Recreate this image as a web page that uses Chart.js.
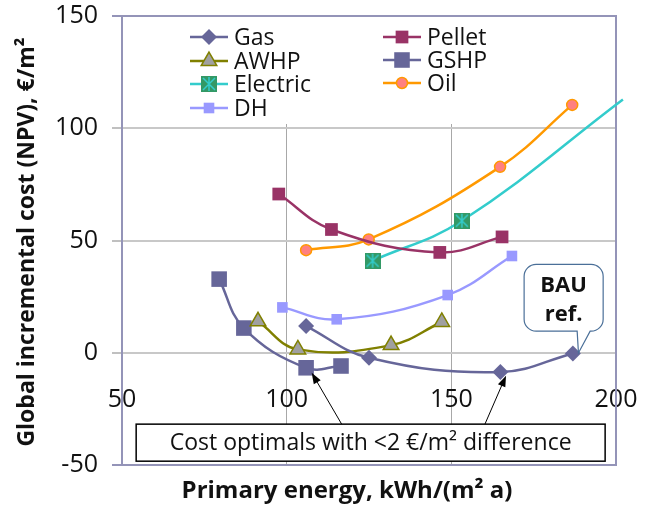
<!DOCTYPE html>
<html>
<head>
<meta charset="utf-8">
<script src="https://cdn.jsdelivr.net/npm/chart.js@4/dist/chart.umd.min.js"></script>
<style>
html, body { margin: 0; padding: 0; background: #fff; }
#wrap { width: 649px; height: 508px; }
</style>
</head>
<body>
<div id="wrap"><canvas id="chart" width="649" height="508"></canvas></div>
<script>
// axis ticks
var xTicks = [50, 100, 150, 200];
var yTicks = [-50, 0, 50, 100, 150];

// series, x = primary energy kWh/(m2 a), y = global incremental cost EUR/m2
var gasX = [105.9, 125.0, 164.9, 186.9];
var gasY = [11.9, -2.2, -8.6, -0.3];
var pelletX = [97.6, 113.6, 146.5, 165.4];
var pelletY = [70.7, 54.9, 44.7, 51.6];
var awhpX = [91.3, 103.4, 131.7, 147.1];
var awhpY = [14.0, 1.5, 3.4, 13.7];
var gshpX = [79.5, 87.0, 105.9, 116.5];
var gshpY = [32.8, 11.0, -6.7, -5.9];
var electricX = [126.1, 153.2, 202.1];
var electricY = [41.0, 58.8, 112.8];
var oilX = [105.9, 124.9, 164.8, 186.7];
var oilY = [45.7, 50.5, 82.8, 110.4];
var dhX = [98.7, 115.2, 148.9, 168.4];
var dhY = [20.2, 14.9, 25.7, 43.1];

var frameColor = '#9494b8';
var font = '"Open Sans", "Liberation Sans", sans-serif';

function pts(xs, ys) {
    return xs.map(function (x, i) { return { x: x, y: ys[i] }; });
}

function electricMarker() {
    var c = document.createElement('canvas');
    c.width = 16; c.height = 16;
    var g = c.getContext('2d');
    g.fillStyle = '#339966';
    g.fillRect(0, 0, 16, 16);
    g.strokeStyle = '#33cccc';
    g.lineWidth = 1.5;
    g.beginPath();
    g.moveTo(2, 2); g.lineTo(14, 14);
    g.moveTo(14, 2); g.lineTo(2, 14);
    g.moveTo(8, 1); g.lineTo(8, 15);
    g.stroke();
    return c;
}
var elecImg = electricMarker();

var series = [
    { label: 'Gas', xs: gasX, ys: gasY, line: '#666699', fill: '#666699', style: 'rectRot', r: 8, bw: 0 },
    { label: 'Pellet', xs: pelletX, ys: pelletY, line: '#993366', fill: '#993366', style: 'rect', r: 9, bw: 0 },
    { label: 'AWHP', xs: awhpX, ys: awhpY, line: '#808000', fill: '#a0a0a0', style: 'triangle', r: 9, bw: 1.5 },
    { label: 'GSHP', xs: gshpX, ys: gshpY, line: '#666699', fill: '#666699', style: 'rect', r: 11, bw: 0 },
    { label: 'Electric', xs: electricX, ys: electricY, line: '#33cccc', fill: '#339966', style: elecImg, r: 8, bw: 0 },
    { label: 'Oil', xs: oilX, ys: oilY, line: '#ff9900', fill: '#ff8080', style: 'circle', r: 5.5, bw: 1.5 },
    { label: 'DH', xs: dhX, ys: dhY, line: '#9999ff', fill: '#9999ff', style: 'rect', r: 7.5, bw: 0 }
];

var datasets = series.map(function (s) {
    var radii = s.xs.map(function (x) { return x > 200 ? 0 : s.r; });
    return {
        label: s.label,
        data: pts(s.xs, s.ys),
        borderColor: s.line,
        borderWidth: 2.5,
        backgroundColor: s.fill,
        pointBackgroundColor: s.fill,
        pointBorderColor: s.line,
        pointBorderWidth: s.bw,
        pointStyle: s.style,
        pointRadius: radii,
        tension: 0.4,
        clip: false
    };
});

function drawMarker(ctx, s, x, y) {
    ctx.save();
    ctx.fillStyle = s.fill;
    ctx.strokeStyle = s.line;
    ctx.lineWidth = s.bw;
    var r = s.r;
    ctx.beginPath();
    if (s.style === 'rect') {
        var h = r * Math.SQRT1_2;
        ctx.rect(x - h, y - h, 2 * h, 2 * h);
    } else if (s.style === 'rectRot') {
        ctx.moveTo(x, y - r); ctx.lineTo(x + r, y); ctx.lineTo(x, y + r); ctx.lineTo(x - r, y); ctx.closePath();
    } else if (s.style === 'triangle') {
        var a = 0;
        ctx.moveTo(x + Math.sin(a) * r, y - Math.cos(a) * r);
        a += Math.PI * 2 / 3;
        ctx.lineTo(x + Math.sin(a) * r, y - Math.cos(a) * r);
        a += Math.PI * 2 / 3;
        ctx.lineTo(x + Math.sin(a) * r, y - Math.cos(a) * r);
        ctx.closePath();
    } else if (s.style === 'circle') {
        ctx.arc(x, y, r, 0, Math.PI * 2);
    } else {
        ctx.drawImage(s.style, x - 8, y - 8);
        ctx.restore();
        return;
    }
    ctx.fill();
    if (s.bw > 0) ctx.stroke();
    ctx.restore();
}

function arrow(ctx, x1, y1, x2, y2) {
    var ang = Math.atan2(y2 - y1, x2 - x1);
    var len = 11, w = 4;
    ctx.save();
    ctx.strokeStyle = '#000';
    ctx.fillStyle = '#000';
    ctx.lineWidth = 1;
    ctx.beginPath();
    ctx.moveTo(x1, y1);
    ctx.lineTo(x2 - Math.cos(ang) * len * 0.8, y2 - Math.sin(ang) * len * 0.8);
    ctx.stroke();
    ctx.beginPath();
    ctx.moveTo(x2, y2);
    ctx.lineTo(x2 - Math.cos(ang) * len - Math.sin(ang) * w, y2 - Math.sin(ang) * len + Math.cos(ang) * w);
    ctx.lineTo(x2 - Math.cos(ang) * len + Math.sin(ang) * w, y2 - Math.sin(ang) * len - Math.cos(ang) * w);
    ctx.closePath();
    ctx.fill();
    ctx.restore();
}

var extras = {
    id: 'extras',
    beforeDatasetsDraw: function (chart) {
        var ctx = chart.ctx, a = chart.chartArea;
        // legend background inside the plot
        ctx.save();
        ctx.fillStyle = '#fff';
        ctx.fillRect(170, a.top + 1, 350, 124 - a.top - 1);
        // frame
        ctx.strokeStyle = frameColor;
        ctx.lineWidth = 2;
        ctx.strokeRect(a.left, a.top, a.right - a.left, a.bottom - a.top);
        ctx.restore();

        // legend
        var cols = [
            { lx: 190, tx: 234, items: ['Gas', 'AWHP', 'Electric', 'DH'], ys: [37, 61, 84, 108] },
            { lx: 383, tx: 427, items: ['Pellet', 'GSHP', 'Oil'], ys: [37, 60, 83] }
        ];
        ctx.save();
        ctx.font = '23px ' + font;
        ctx.textBaseline = 'middle';
        cols.forEach(function (c) {
            c.items.forEach(function (name, i) {
                var s = series.filter(function (q) { return q.label === name; })[0];
                var y = c.ys[i];
                ctx.strokeStyle = s.line;
                ctx.lineWidth = 2.5;
                ctx.beginPath();
                ctx.moveTo(c.lx, y);
                ctx.lineTo(c.lx + 38, y);
                ctx.stroke();
                drawMarker(ctx, s, c.lx + 19, y);
                ctx.fillStyle = '#111';
                ctx.fillText(name, c.tx, y + 1);
            });
        });
        ctx.restore();
    },
    afterDatasetsDraw: function (chart) {
        var ctx = chart.ctx;
        var sx = chart.scales.x, sy = chart.scales.y;
        function X(v) { return sx.getPixelForValue(v); }
        function Y(v) { return sy.getPixelForValue(v); }

        // note box
        var bx1 = X(54.3), bx2 = X(196.7), by1 = Y(-31.8), by2 = Y(-48.3);
        ctx.save();
        ctx.fillStyle = '#fff';
        ctx.fillRect(bx1, by1, bx2 - bx1, by2 - by1);
        ctx.strokeStyle = '#000';
        ctx.lineWidth = 1.5;
        ctx.strokeRect(bx1, by1, bx2 - bx1, by2 - by1);
        ctx.font = '23px ' + font;
        ctx.fillStyle = '#111';
        ctx.textAlign = 'center';
        ctx.textBaseline = 'middle';
        ctx.fillText('Cost optimals with <2 \u20ac/m\u00b2 difference', (bx1 + bx2) / 2, (by1 + by2) / 2 + 1);
        ctx.restore();

        arrow(ctx, X(116.7), Y(-31.8), X(107.6), Y(-8.9));
        arrow(ctx, X(160.2), Y(-31.8), X(166.6), Y(-10.2));

        // BAU callout
        var cx1 = X(172.1), cx2 = X(196.1), cy1 = Y(39.4), cy2 = Y(9.6);
        var tipX = X(188.6), tipY = Y(-0.1), r = 12;
        ctx.save();
        ctx.beginPath();
        ctx.moveTo(cx1 + r, cy1);
        ctx.lineTo(cx2 - r, cy1);
        ctx.arcTo(cx2, cy1, cx2, cy1 + r, r);
        ctx.lineTo(cx2, cy2 - r);
        ctx.arcTo(cx2, cy2, cx2 - r, cy2, r);
        ctx.lineTo(cx2 - 13, cy2);
        ctx.lineTo(tipX, tipY);
        ctx.lineTo(cx2 - 26, cy2);
        ctx.lineTo(cx1 + r, cy2);
        ctx.arcTo(cx1, cy2, cx1, cy2 - r, r);
        ctx.lineTo(cx1, cy1 + r);
        ctx.arcTo(cx1, cy1, cx1 + r, cy1, r);
        ctx.closePath();
        ctx.fillStyle = '#fff';
        ctx.fill();
        ctx.strokeStyle = '#4a6f98';
        ctx.lineWidth = 1.2;
        ctx.stroke();
        ctx.font = 'bold 22px ' + font;
        ctx.fillStyle = '#111';
        ctx.textAlign = 'center';
        ctx.textBaseline = 'middle';
        ctx.fillText('BAU', (cx1 + cx2) / 2, cy1 + 21);
        ctx.fillText('ref.', (cx1 + cx2) / 2, cy1 + 50);
        ctx.restore();
    },
    afterDraw: function (chart) {
        var ctx = chart.ctx;
        ctx.save();
        ctx.fillStyle = '#111';
        ctx.textAlign = 'center';
        ctx.textBaseline = 'middle';
        ctx.font = 'bold 24px ' + font;
        ctx.fillText('Primary energy, kWh/(m\u00b2 a)', 347, 491);
        ctx.translate(27, 242);
        ctx.rotate(-Math.PI / 2);
        ctx.font = 'bold 23px ' + font;
        ctx.fillText('Global incremental cost (NPV), \u20ac/m\u00b2', 0, 0);
        ctx.restore();
    }
};

function edge(v, lo, hi) { return v === lo || v === hi; }

new Chart(document.getElementById('chart'), {
    type: 'line',
    data: { datasets: datasets },
    options: {
        responsive: false,
        devicePixelRatio: 1,
        animation: false,
        layout: { padding: { left: 0, top: 16, right: 33, bottom: 43 } },
        plugins: { legend: { display: false }, tooltip: { enabled: false } },
        scales: {
            x: {
                type: 'linear',
                min: xTicks[0],
                max: xTicks[xTicks.length - 1],
                position: { y: -14.4 },
                afterFit: function (s) {
                    s.height = 0;
                    s.paddingLeft = 0; s.paddingRight = 0; s.paddingTop = 0; s.paddingBottom = 0;
                },
                afterBuildTicks: function (s) { s.ticks = xTicks.map(function (v) { return { value: v }; }); },
                border: { display: false },
                grid: {
                    drawTicks: false,
                    lineWidth: 1,
                    color: function (c) { return edge(c.tick.value, 50, 200) ? 'rgba(0,0,0,0)' : '#a8a8a8'; }
                },
                ticks: { color: '#111', padding: 0, font: { family: font, size: 25 } }
            },
            y: {
                min: yTicks[0],
                max: yTicks[yTicks.length - 1],
                afterFit: function (s) {
                    s.width = 122;
                    s.paddingTop = 0; s.paddingBottom = 0;
                },
                afterBuildTicks: function (s) { s.ticks = yTicks.map(function (v) { return { value: v }; }); },
                border: { display: false },
                grid: {
                    lineWidth: 2,
                    tickLength: 10,
                    color: function (c) { return edge(c.tick.value, -50, 150) ? 'rgba(0,0,0,0)' : '#c8c8c8'; },
                    tickColor: function (c) { return edge(c.tick.value, -50, 150) ? frameColor : '#c0c0c0'; }
                },
                ticks: { color: '#111', padding: 14, font: { family: font, size: 25 } }
            }
        }
    },
    plugins: [extras]
});
</script>
</body>
</html>
